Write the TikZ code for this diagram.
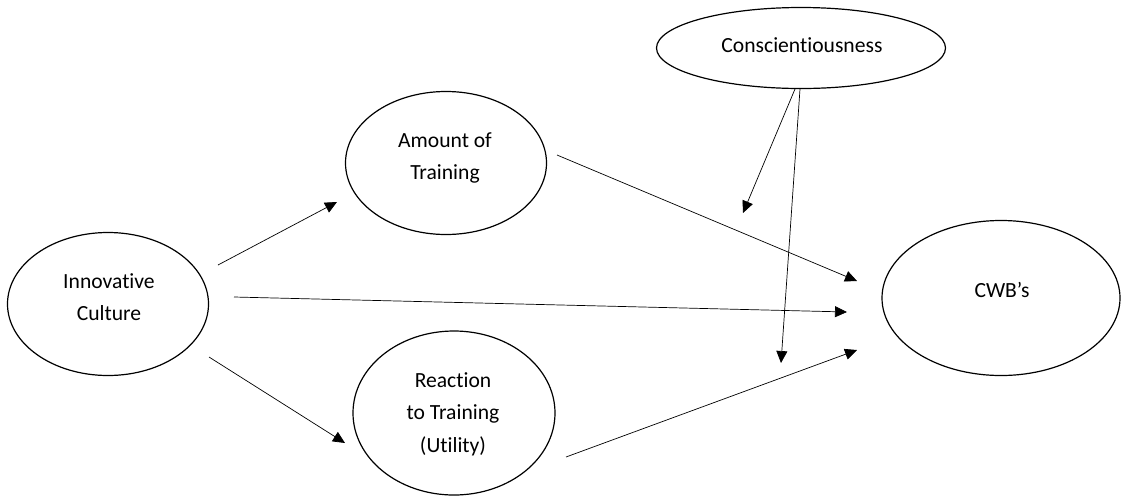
\documentclass[tikz,border=0pt]{standalone}
\usepackage{fontspec}
\setmainfont{Carlito}[Ligatures={NoCommon}]
\usetikzlibrary{shapes.geometric,arrows.meta}
\begin{document}
\begin{tikzpicture}[x=1pt,y=-1pt,
  oval/.style={draw, ellipse, line width=1.2pt, inner sep=0pt},
  lbl/.style={align=center, font=\fontsize{21.6}{32.5}\selectfont, inner sep=0pt},
  link/.style={line width=0.7pt, -{Triangle[length=12pt,width=11pt]}}]
\useasboundingbox (0,0) rectangle (1122,499);
% ellipses
\node[oval, minimum width=289pt, minimum height=81pt] (con) at (801,48) {};
\node[oval, minimum width=201pt, minimum height=143pt] (ic) at (108,304) {};
\node[oval, minimum width=201pt, minimum height=143pt] (at) at (446,163) {};
\node[oval, minimum width=202pt, minimum height=164pt] (rt) at (454,413) {};
\node[oval, minimum width=238pt, minimum height=155pt] (cwb) at (1001,298) {};
% labels
\node[lbl] (conT) at (802,45) {Conscientiousness};
\node[lbl] (icT) at (109,297) {Innovative\\Culture};
\node[lbl] (atT) at (445,158) {Amount of\\Training};
\node[lbl] (rtT) at (453,414) {Reaction\\to Training\\(Utility)};
\node[lbl] (cwbT) at (1002,290) {CWB’s};
% connector ends
\coordinate (icA) at (218,265); \coordinate (atIn) at (337,202);
\coordinate (icB) at (234,297); \coordinate (cwbA) at (847,312);
\coordinate (icC) at (209,357); \coordinate (rtIn) at (345,443);
\coordinate (atOut) at (557,155); \coordinate (cwbB) at (857,281);
\coordinate (rtOut) at (566,457); \coordinate (cwbC) at (857,350);
\coordinate (conA) at (795,89); \coordinate (modA) at (743,213);
\coordinate (conB) at (800,89); \coordinate (modB) at (781,363);
% connectors
\draw[link] (icA) -- (atIn);
\draw[link] (icB) -- (cwbA);
\draw[link] (icC) -- (rtIn);
\draw[link] (atOut) -- (cwbB);
\draw[link] (rtOut) -- (cwbC);
\draw[link] (conA) -- (modA);
\draw[link] (conB) -- (modB);
\end{tikzpicture}
\end{document}
